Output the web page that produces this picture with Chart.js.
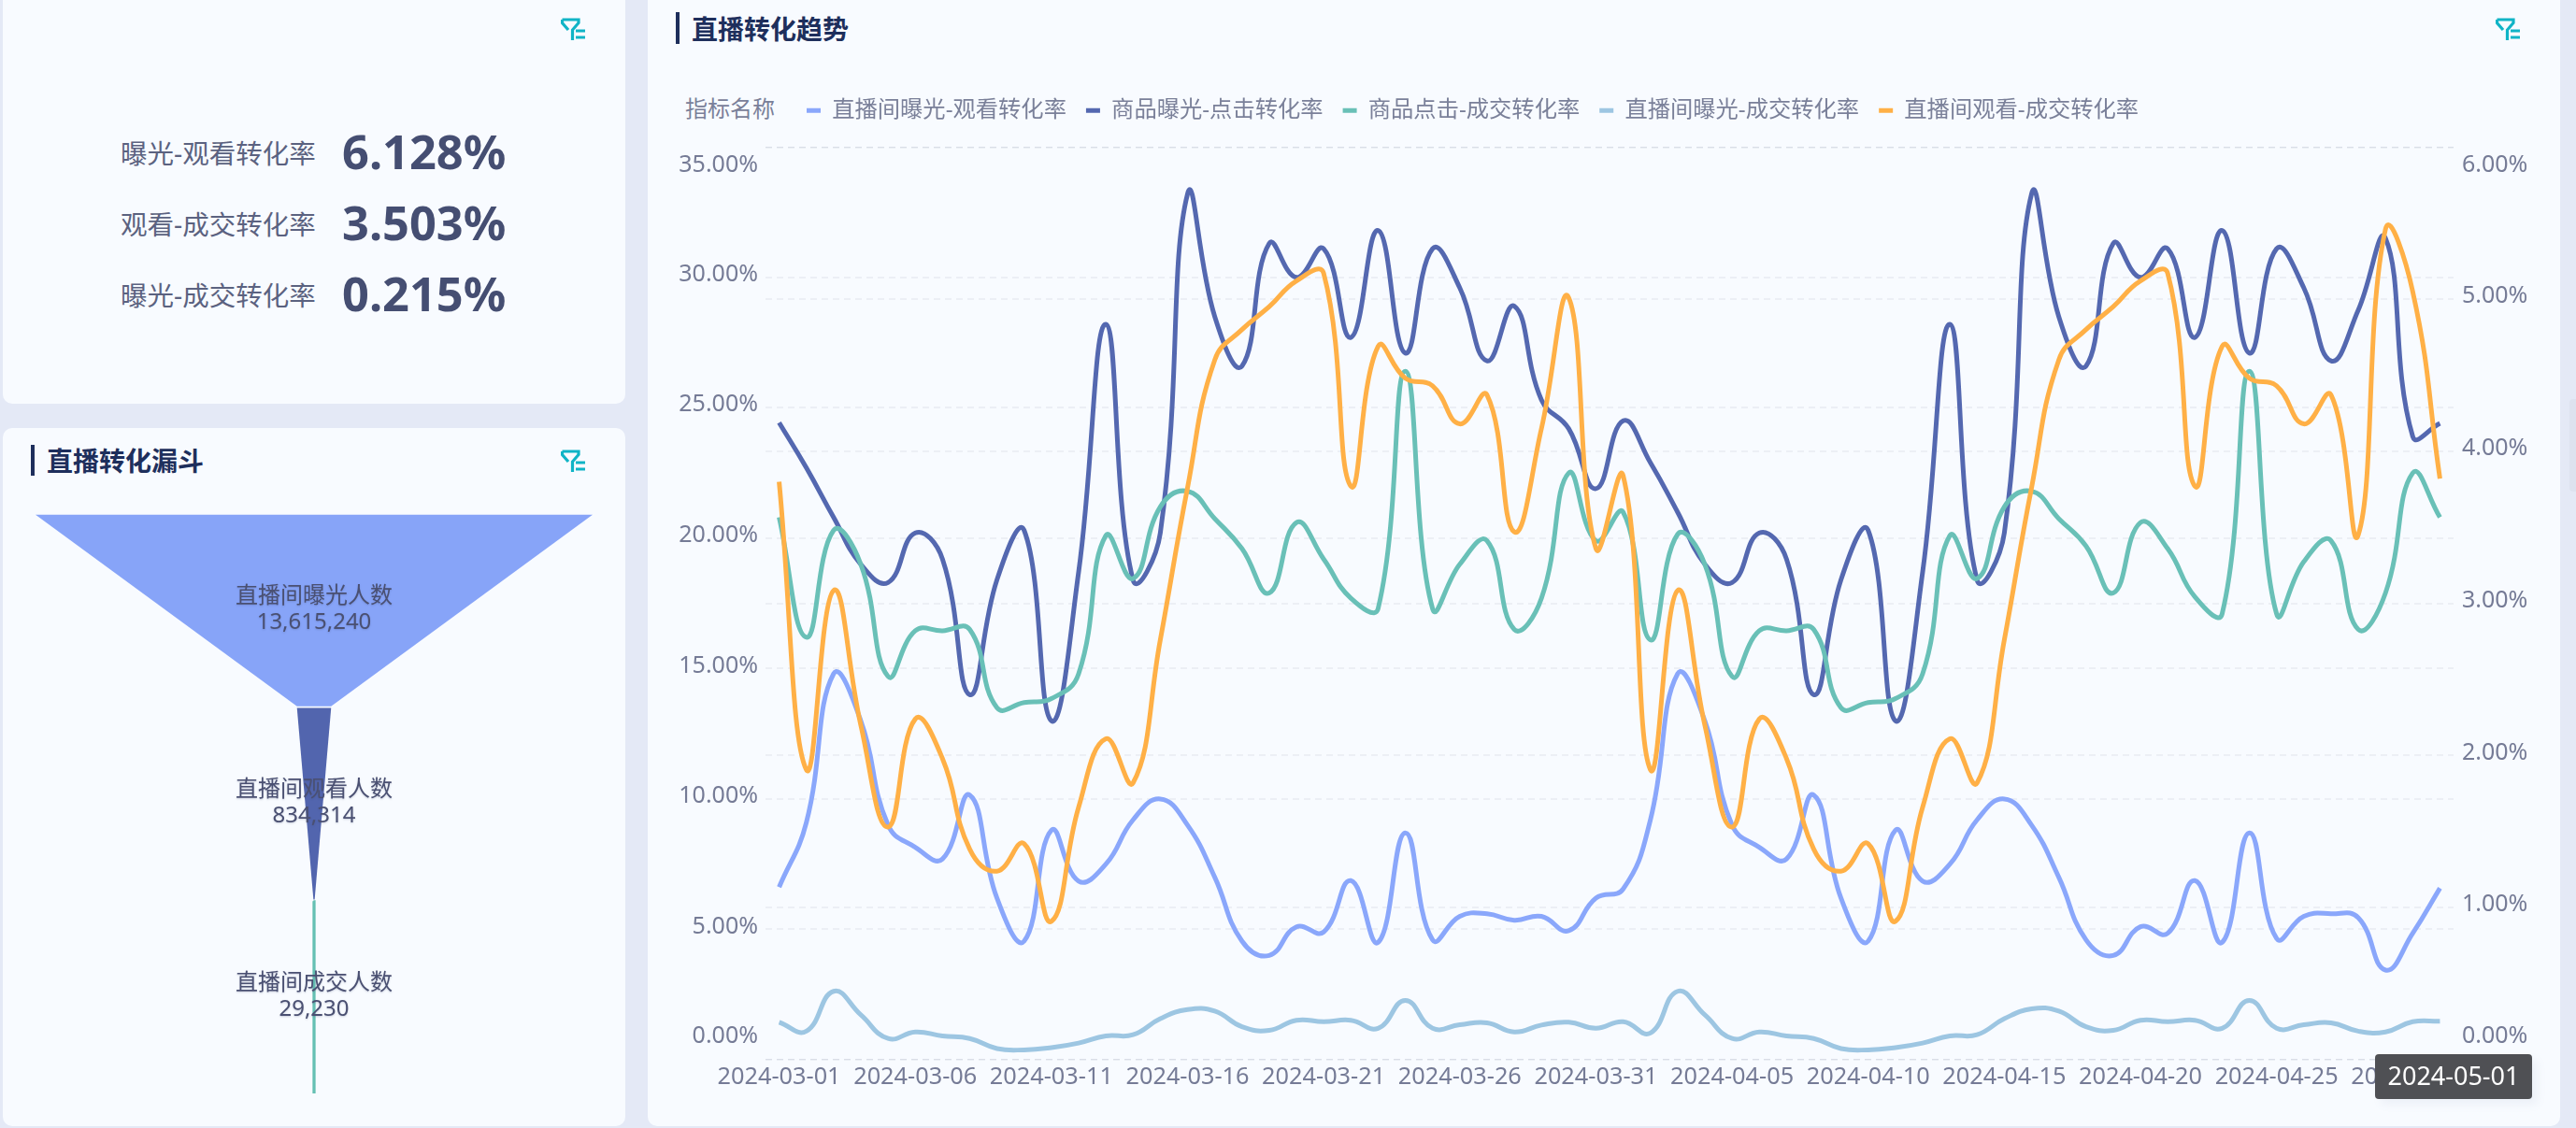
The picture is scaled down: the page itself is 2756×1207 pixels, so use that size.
<!DOCTYPE html>
<html lang="zh">
<head>
<meta charset="utf-8">
<title>直播转化</title>
<script src="https://cdn.jsdelivr.net/npm/chart.js@4/dist/chart.umd.min.js"></script>
<style>
  html, body { margin: 0; padding: 0; width: 2756px; height: 1207px; overflow: hidden; background: #e4e9f6; }
  body { position: relative; font-family: "Noto Sans", "Noto Sans CJK SC", sans-serif; }
  .card { position: absolute; background: #f8fbff; border-radius: 10px; }
  .abs { position: absolute; white-space: nowrap; }
  .title { font-size: 28px; font-weight: 700; color: #1e2f5c; line-height: 34px; }
  .bar { position: absolute; width: 4px; background: #1e2f5c; }
  .kpi-name { font-size: 28.5px; color: #5b6280; line-height: 36px; }
  .kpi-value { font-size: 50.5px; font-weight: 700; color: #454e72; line-height: 60px; }
  canvas { position: absolute; display: block; }
</style>
</head>
<body>
<div class="card" style="left:3px;top:-12px;width:666px;height:444px"></div>
<div class="card" style="left:3px;top:458px;width:666px;height:747px"></div>
<div class="card" style="left:693px;top:-12px;width:2046px;height:1217px"></div>

<div class="abs kpi-name" style="left:129px;top:146px">曝光-观看转化率</div>
<div class="abs kpi-value" style="left:366px;top:132px">6.128%</div>
<div class="abs kpi-name" style="left:129px;top:222px">观看-成交转化率</div>
<div class="abs kpi-value" style="left:366px;top:208px">3.503%</div>
<div class="abs kpi-name" style="left:129px;top:298px">曝光-成交转化率</div>
<div class="abs kpi-value" style="left:366px;top:284px">0.215%</div>

<div class="bar" style="left:33px;top:476px;height:33px"></div>
<div class="abs title" style="left:50px;top:476px">直播转化漏斗</div>
<div class="bar" style="left:723px;top:13px;height:34px"></div>
<div class="abs title" style="left:740px;top:14px">直播转化趋势</div>
<div class="abs" style="left:733px;top:98px;font-size:24px;line-height:36px;color:#7a8099">指标名称</div>

<svg class="abs" style="left:600px;top:19px" width="27" height="25" viewBox="0 0 27 25"><path d="M1.5 2H19V5.5L12.5 13V24M8 13L1.5 5.5V2" fill="none" stroke="#10b4c6" stroke-width="3.2"/><path d="M16 14H26M16 21H26" stroke="#10b4c6" stroke-width="3.2"/></svg>
<svg class="abs" style="left:600px;top:481px" width="27" height="25" viewBox="0 0 27 25"><path d="M1.5 2H19V5.5L12.5 13V24M8 13L1.5 5.5V2" fill="none" stroke="#10b4c6" stroke-width="3.2"/><path d="M16 14H26M16 21H26" stroke="#10b4c6" stroke-width="3.2"/></svg>
<svg class="abs" style="left:2670px;top:19px" width="27" height="25" viewBox="0 0 27 25"><path d="M1.5 2H19V5.5L12.5 13V24M8 13L1.5 5.5V2" fill="none" stroke="#10b4c6" stroke-width="3.2"/><path d="M16 14H26M16 21H26" stroke="#10b4c6" stroke-width="3.2"/></svg>

<canvas id="funnelChart" width="596" height="620" style="left:38px;top:550px"></canvas>
<canvas id="trendChart" width="2046" height="1205" style="left:693px;top:0"></canvas>

<div class="abs" style="left:2541px;top:1128px;width:168px;height:48px;background:#4f5054;border-radius:4px;box-shadow:6px 6px 10px rgba(120,130,160,.08);color:#fff;font-size:27px;line-height:46px;text-align:center">2024-05-01</div>
<div class="abs" style="left:2749px;top:427px;width:7px;height:99px;background:#dde2ef;border-radius:4px 0 0 4px"></div>

<script>
const dates = [
  '2024-03-01','2024-03-02','2024-03-03','2024-03-04','2024-03-05','2024-03-06','2024-03-07','2024-03-08',
  '2024-03-09','2024-03-10','2024-03-11','2024-03-12','2024-03-13','2024-03-14','2024-03-15','2024-03-16',
  '2024-03-17','2024-03-18','2024-03-19','2024-03-20','2024-03-21','2024-03-22','2024-03-23','2024-03-24',
  '2024-03-25','2024-03-26','2024-03-27','2024-03-28','2024-03-29','2024-03-30','2024-03-31','2024-04-01',
  '2024-04-02','2024-04-03','2024-04-04','2024-04-05','2024-04-06','2024-04-07','2024-04-08','2024-04-09',
  '2024-04-10','2024-04-11','2024-04-12','2024-04-13','2024-04-14','2024-04-15','2024-04-16','2024-04-17',
  '2024-04-18','2024-04-19','2024-04-20','2024-04-21','2024-04-22','2024-04-23','2024-04-24','2024-04-25',
  '2024-04-26','2024-04-27','2024-04-28','2024-04-29','2024-04-30','2024-05-01'
];

// left axis, percent
const liveExposeWatch = [
  6.62, 9.1, 14.8, 13.0, 9.0, 8.15, 7.7, 10.15, 6.2, 4.55, 8.8, 6.85, 7.5, 9.2, 10.0, 9.0,
  7.0, 4.55, 4.0, 5.1, 4.9, 6.87, 4.5, 8.7, 4.6, 5.5, 5.6, 5.35, 5.5, 4.95, 6.2,
  6.55, 9.2, 14.8, 13.0, 9.0, 8.15, 7.7, 10.15, 6.2, 4.55, 8.8, 6.85, 7.5, 9.2, 10.0, 9.0,
  7.0, 4.6, 4.0, 5.1, 4.85, 6.87, 4.5, 8.7, 4.65, 5.5, 5.6, 5.45, 3.44, 4.85, 6.58
];
const goodsExposeClick = [
  24.43, 22.7, 20.8, 19.0, 18.3, 20.2, 19.2, 14.0, 18.4, 20.3, 13.0, 18.7, 28.2, 18.4, 20.2, 33.2,
  28.5, 26.6, 31.3, 30.0, 31.1, 27.7, 31.8, 27.1, 31.1, 29.6, 26.8, 28.9, 25.3, 24.2, 21.9,
  24.5, 22.9, 21.0, 19.0, 18.3, 20.2, 19.2, 14.0, 18.4, 20.3, 13.0, 18.7, 28.2, 18.4, 20.2, 33.2,
  28.5, 26.6, 31.3, 30.0, 31.1, 27.7, 31.8, 27.1, 31.1, 29.6, 26.8, 28.75, 31.5, 23.9, 24.4
];
const goodsClickDeal = [
  20.8, 16.2, 20.3, 19.0, 14.7, 16.45, 16.45, 16.5, 13.5, 13.7, 13.85, 14.8, 20.1, 18.45, 21.2, 21.8,
  20.75, 19.6, 17.9, 20.6, 19.2, 17.7, 17.3, 26.4, 17.3, 19.0, 19.9, 16.5, 17.7, 22.5, 19.9,
  21.0, 16.1, 20.15, 19.0, 14.7, 16.45, 16.45, 16.5, 13.5, 13.7, 13.85, 14.8, 20.1, 18.45, 21.2, 21.8,
  20.75, 19.7, 17.9, 20.6, 19.6, 17.75, 17.1, 26.4, 17.1, 19.1, 19.9, 16.5, 17.9, 22.5, 20.8
];
// right axis, percent
const liveExposeDeal = [
  0.247, 0.188, 0.45, 0.295, 0.14, 0.183, 0.157, 0.14, 0.074, 0.065, 0.08, 0.11, 0.157, 0.165, 0.27, 0.33,
  0.32, 0.217, 0.193, 0.26, 0.25, 0.26, 0.207, 0.39, 0.207, 0.23, 0.243, 0.183, 0.228, 0.247, 0.207,
  0.25, 0.176, 0.45, 0.295, 0.14, 0.183, 0.157, 0.14, 0.074, 0.065, 0.08, 0.11, 0.157, 0.165, 0.27, 0.335,
  0.32, 0.217, 0.193, 0.26, 0.25, 0.26, 0.207, 0.39, 0.207, 0.23, 0.243, 0.188, 0.183, 0.25, 0.253
];
const liveWatchDeal = [
  3.8, 1.907, 3.085, 2.2, 1.53, 2.24, 1.98, 1.385, 1.24, 1.42, 0.91, 1.66, 2.11, 1.82, 2.76, 3.76,
  4.6, 4.8, 4.95, 5.12, 5.17, 3.77, 4.69, 4.48, 4.43, 4.18, 4.37, 3.47, 4.15, 5.01, 3.36,
  3.84, 1.907, 3.085, 2.2, 1.53, 2.24, 1.98, 1.385, 1.24, 1.42, 0.91, 1.66, 2.11, 1.82, 2.76, 3.76,
  4.6, 4.8, 4.95, 5.12, 5.17, 3.77, 4.69, 4.48, 4.43, 4.18, 4.37, 3.45, 5.46, 5.05, 3.82
];

const funnelStages = ['直播间曝光人数', '直播间观看人数', '直播间成交人数'];
const funnelValues = [13615240, 834314, 29230];
const funnelColors = ['#87a4f8', '#5265ae', '#65c0b3'];

const axisColor = '#757b96';
const baseFont = '"Noto Sans", "Noto Sans CJK SC", sans-serif';

// outer ticks sit inside the plot, so push them along with blank lines
function percentTick(value, index, ticks) {
  const text = value.toFixed(2) + '%';
  if (index === 0) return [text, '', ''];
  if (index === ticks.length - 1) return ['', '', text];
  return [text, ''];
}
function isEdge(ctx) {
  return !!ctx.tick && (ctx.tick.value === ctx.scale.min || ctx.tick.value === ctx.scale.max);
}
function tickFont(ctx) {
  let lineHeight = '6px';
  if (ctx.tick && ctx.tick.value === ctx.scale.min) lineHeight = '25px';
  if (ctx.tick && ctx.tick.value === ctx.scale.max) lineHeight = '20px';
  return { family: baseFont, size: 25, lineHeight: lineHeight };
}
function gridColor(ctx) {
  return isEdge(ctx) ? '#d9dee7' : '#eceff5';
}
function gridWidth(ctx) {
  return isEdge(ctx) ? 1.2 : 2;
}

function trendLine(label, data, color, axis, order) {
  return {
    label: label,
    data: data,
    yAxisID: axis,
    order: order,
    borderColor: color,
    backgroundColor: color,
    borderWidth: 5,
    pointRadius: 0,
    tension: 0.45,
    fill: false
  };
}

// legend box is placed by the layout, nudge it next to the 指标名称 text
const legendPlace = {
  id: 'legendPlace',
  afterLayout(chart) {
    chart.legend.left = 149;
    chart.legend.top = 85;
  }
};

new Chart(document.getElementById('trendChart'), {
  type: 'line',
  data: {
    labels: dates,
    datasets: [
      trendLine('直播间曝光-观看转化率', liveExposeWatch, '#8aa7fb', 'y', 5),
      trendLine('商品曝光-点击转化率', goodsExposeClick, '#5468b0', 'y', 4),
      trendLine('商品点击-成交转化率', goodsClickDeal, '#69c0b7', 'y', 3),
      trendLine('直播间曝光-成交转化率', liveExposeDeal, '#9dc6e2', 'y2', 2),
      trendLine('直播间观看-成交转化率', liveWatchDeal, '#ffb046', 'y2', 1)
    ]
  },
  options: {
    responsive: false,
    animation: false,
    layout: { padding: { top: 102, left: 0, right: 0, bottom: 0 } },
    plugins: {
      tooltip: { enabled: false },
      legend: {
        position: 'top',
        align: 'start',
        labels: {
          color: '#7a8099',
          font: { family: baseFont, size: 24.3 },
          padding: 21,
          usePointStyle: true,
          pointStyle: 'line',
          pointStyleWidth: 15,
          sort: (a, b) => a.datasetIndex - b.datasetIndex
        }
      }
    },
    scales: {
      x: {
        offset: true,
        afterFit: scale => { scale.height = 71; },
        grid: { display: false },
        border: { display: false },
        ticks: {
          color: axisColor,
          font: { family: baseFont, size: 25.3 },
          padding: -4,
          autoSkip: false,
          maxRotation: 0,
          callback: function (value, index) {
            return index % 5 === 0 ? this.getLabelForValue(value) : '';
          }
        }
      },
      y: {
        position: 'left',
        min: 0,
        max: 35,
        afterFit: scale => { scale.width = 126; },
        grid: { color: gridColor, lineWidth: gridWidth, drawTicks: false },
        border: { display: false, dash: [7, 5] },
        ticks: { stepSize: 5, color: axisColor, font: tickFont, padding: 8, callback: percentTick }
      },
      y2: {
        position: 'right',
        min: 0,
        max: 6,
        afterFit: scale => { scale.width = 114; },
        grid: { color: gridColor, lineWidth: gridWidth, drawTicks: false, drawOnChartArea: true },
        border: { display: false, dash: [7, 5] },
        ticks: { stepSize: 1, color: axisColor, font: tickFont, padding: 9, callback: percentTick }
      }
    }
  },
  plugins: [legendPlace]
});

// each stage is a closed shape from its own width to the next stage's width
const stageGap = 0.004;
const funnelDatasets = funnelValues.map((value, i) => {
  const last = i === funnelValues.length - 1;
  const next = last ? value : funnelValues[i + 1];
  return {
    data: [
      { x: -value / 2, y: i + stageGap },
      { x: value / 2, y: i + stageGap },
      { x: next / 2, y: i + 1 - stageGap },
      { x: -next / 2, y: i + 1 - stageGap },
      { x: -value / 2, y: i + stageGap }
    ],
    showLine: true,
    fill: 'shape',
    tension: 0,
    pointRadius: 0,
    backgroundColor: funnelColors[i],
    borderColor: funnelColors[i],
    borderWidth: last ? 2 : 0
  };
});

const funnelText = {
  id: 'funnelText',
  afterDatasetsDraw(chart) {
    const ctx = chart.ctx;
    const xScale = chart.scales.x;
    const yScale = chart.scales.y;
    ctx.save();
    ctx.font = '24px ' + baseFont;
    ctx.fillStyle = '#4a5072';
    ctx.textAlign = 'center';
    ctx.textBaseline = 'middle';
    ctx.shadowColor = 'rgba(60,70,110,0.25)';
    ctx.shadowBlur = 2;
    ctx.shadowOffsetY = 1;
    funnelStages.forEach((stage, i) => {
      const cx = xScale.getPixelForValue(0);
      const cy = yScale.getPixelForValue(i + 0.5);
      ctx.fillText(stage, cx, cy - 15);
      ctx.fillText(funnelValues[i].toLocaleString('en-US'), cx, cy + 13);
    });
    ctx.restore();
  }
};

new Chart(document.getElementById('funnelChart'), {
  type: 'scatter',
  data: { datasets: funnelDatasets },
  options: {
    responsive: false,
    animation: false,
    layout: { padding: 0 },
    plugins: { legend: { display: false }, tooltip: { enabled: false } },
    scales: {
      x: { display: false, min: -funnelValues[0] / 2, max: funnelValues[0] / 2 },
      y: { display: false, reverse: true, min: 0, max: funnelValues.length }
    }
  },
  plugins: [funnelText]
});
</script>
</body>
</html>
